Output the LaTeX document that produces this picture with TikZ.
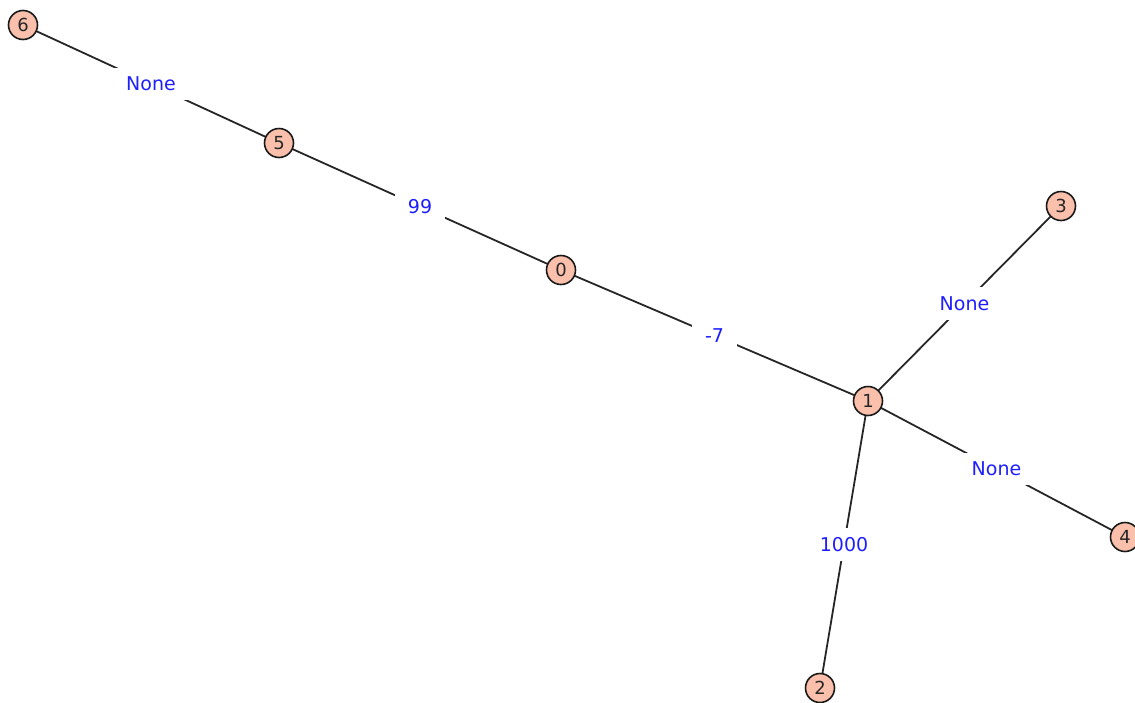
\documentclass[tikz,border=0pt]{standalone}
\usepackage{fontspec}
\setmainfont{DejaVu Sans}
\definecolor{nodefill}{RGB}{250,192,172}
\definecolor{lblblue}{RGB}{30,30,255}
\begin{document}
\begin{tikzpicture}[x=1pt,y=-1pt,
  vert/.style={circle,draw=black!90,line width=1.6pt,fill=nodefill,minimum size=29pt,inner sep=0pt,text=black!85,font=\fontsize{18}{18}\selectfont},
  elabel/.style={fill=white,text=lblblue,inner xsep=13pt,inner ysep=9pt,font=\fontsize{19}{20}\selectfont},
  edge/.style={draw=black!85,line width=1.8pt}]
\useasboundingbox (0,0) rectangle (1135,702);
\coordinate (p0) at (561,270);
\coordinate (p1) at (868,401);
\coordinate (p2) at (820,688);
\coordinate (p3) at (1061,206);
\coordinate (p4) at (1125,537);
\coordinate (p5) at (279,143);
\coordinate (p6) at (23,25);
\draw[edge] (p6) -- node[elabel] (l65) {None} (p5);
\draw[edge] (p5) -- node[elabel] (l50) {99} (p0);
\draw[edge] (p0) -- node[elabel] (l01) {-7} (p1);
\draw[edge] (p1) -- node[elabel] (l13) {None} (p3);
\draw[edge] (p1) -- node[elabel] (l14) {None} (p4);
\draw[edge] (p1) -- node[elabel] (l12) {1000} (p2);
\node[vert] (n0) at (p0) {0};
\node[vert] (n1) at (p1) {1};
\node[vert] (n2) at (p2) {2};
\node[vert] (n3) at (p3) {3};
\node[vert] (n4) at (p4) {4};
\node[vert] (n5) at (p5) {5};
\node[vert] (n6) at (p6) {6};
\end{tikzpicture}
\end{document}
